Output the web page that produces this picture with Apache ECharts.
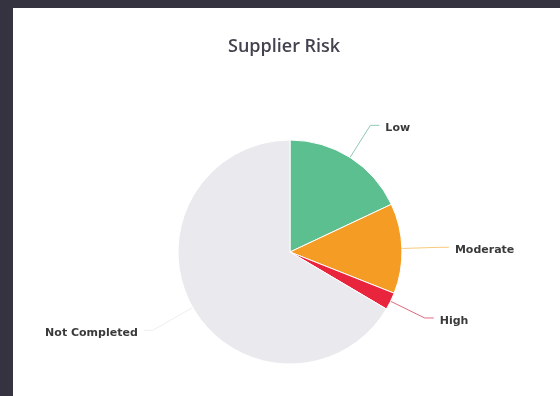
<!DOCTYPE html>
<html><head><meta charset="utf-8">
<script src="https://cdn.jsdelivr.net/npm/echarts@6/dist/echarts.min.js"></script>
<style>
html,body{margin:0;padding:0;background:#35333f;width:560px;height:396px;overflow:hidden}
#c{position:absolute;left:13px;top:8px;width:547px;height:388px;background:#fff}
</style></head><body>
<div id="c"></div>
<script>
const titleText = 'Supplier Risk';
const categories = ['Low', 'Moderate', 'High', 'Not Completed'];
const values = [18, 13, 2.5, 66.5];
const colors = ['#5cbf8f', '#f59c25', '#e8253d', '#e9e9ee'];
const lineColors = ['#8fc9b0', '#f8c97a', '#e06a80', '#eeeef2'];

const chart = echarts.init(document.getElementById('c'), null, {renderer: 'canvas'});
chart.setOption({
  animation: false,
  title: {
    text: titleText, left: 210, top: 25,
    textStyle: {fontFamily: 'Open Sans', fontSize: 18, fontWeight: 600, color: '#43434f'}
  },
  series: [{
    type: 'pie',
    center: [277, 244],
    radius: 112,
    startAngle: 90,
    clockwise: true,
    avoidLabelOverlap: false,
    itemStyle: {borderColor: '#fff', borderWidth: 1},
    label: {fontFamily: 'DejaVu Sans', fontSize: 11, fontWeight: 'bold', color: '#3a3a3a',
            distanceToLabelLine: 6},
    labelLayout: {dy: 3},
    labelLine: {length: 38, length2: 9, lineStyle: {width: 1}},
    data: categories.map((n, i) => ({
      name: n, value: values[i],
      itemStyle: {color: colors[i]},
      labelLine: Object.assign({lineStyle: {color: lineColors[i]}}, i === 3 ? {length: 46} : {})
    }))
  }]
});
</script>
</body></html>
